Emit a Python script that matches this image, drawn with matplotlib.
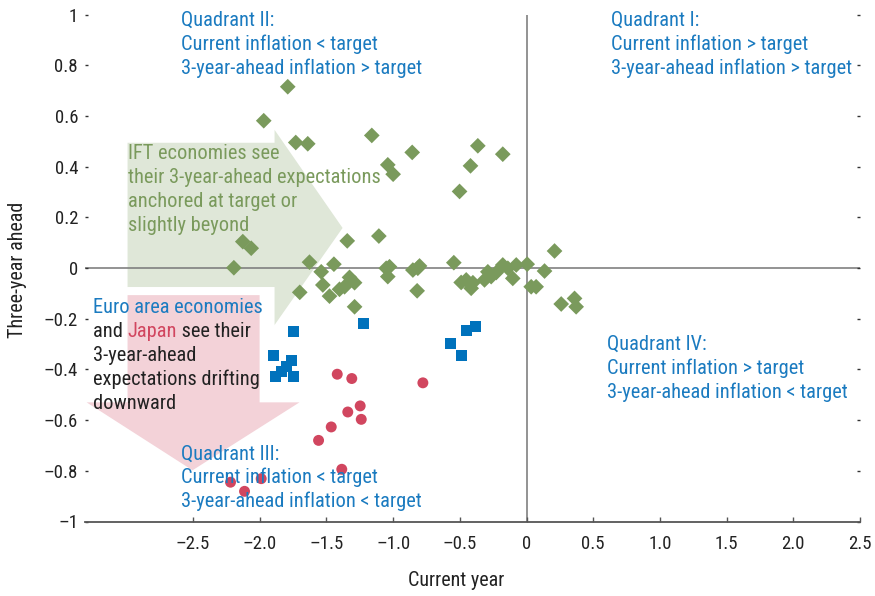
import matplotlib
matplotlib.use("Agg")
import matplotlib.pyplot as plt
import matplotlib.font_manager as fm
from matplotlib.patches import Polygon

names = {f.name for f in fm.fontManager.ttflist}
FONT = None
for cand in ['Liberation Sans Narrow', 'Arial Narrow', 'Roboto Condensed',
             'Open Sans Condensed', 'Noto Sans Condensed']:
    if cand in names:
        FONT = cand
        break
if FONT is None:
    FONT = 'DejaVu Sans'
    plt.rcParams['font.stretch'] = 'condensed'
    FS, TFS, LFS = 12.4, 12.5, 13
else:
    FS, TFS, LFS = 14.7, 13.5, 14.5
plt.rcParams['font.family'] = [FONT, 'DejaVu Sans']

# ---------------- data ----------------
ift_x = [-1.79, -1.97, -1.73, -1.64, -1.16, -0.857, -1.04, -1.00, -0.365, -0.178,
         -0.42, -0.502, -1.107, -1.344, 0.21, -1.627, -1.444, -1.539, -1.527, -1.70,
         -1.477, -1.402, -1.364, -1.327, -1.289, -1.289, -1.052, -1.027, -1.04, -0.852,
         -0.815, -0.802, -0.82, -0.545, -0.49, -0.452, -0.415, -0.402, -0.315, -0.29,
         -0.265, -0.227, -0.178, -0.14, -0.103, -0.077, 0.005, 0.035, 0.072, 0.135,
         0.26, 0.36, 0.372, -2.127, -2.064, -2.194]
ift_y = [0.715, 0.581, 0.495, 0.49, 0.523, 0.456, 0.407, 0.37, 0.482, 0.449,
         0.403, 0.302, 0.126, 0.107, 0.067, 0.023, 0.015, -0.015, -0.067, -0.096,
         -0.111, -0.084, -0.074, -0.037, -0.058, -0.153, -0.001, 0.005, -0.034, -0.008,
         -0.001, 0.008, -0.09, 0.021, -0.057, -0.047, -0.08, -0.058, -0.047, -0.015,
         -0.034, -0.018, 0.012, -0.001, -0.041, 0.012, 0.015, -0.074, -0.074, -0.012,
         -0.142, -0.12, -0.153, 0.104, 0.078, 0.001]

euro_x = [-1.745, -1.22, -1.90, -1.764, -1.88, -1.839, -1.797, -1.745,
          -0.385, -0.452, -0.572, -0.485]
euro_y = [-0.249, -0.219, -0.344, -0.364, -0.427, -0.41, -0.39, -0.427,
          -0.229, -0.248, -0.298, -0.344]

japan_x = [-1.419, -1.31, -0.777, -1.247, -1.34, -1.239, -1.464, -1.559,
           -1.385, -1.989, -2.219, -2.114]
japan_y = [-0.419, -0.436, -0.453, -0.544, -0.568, -0.597, -0.627, -0.68,
           -0.794, -0.831, -0.845, -0.881]

x_ticks = [-2.5, -2.0, -1.5, -1.0, -0.5, 0, 0.5, 1.0, 1.5, 2.0, 2.5]
x_tick_labels = ['\u20132.5', '\u20132.0', '\u20131.5', '\u20131.0', '\u20130.5', '0',
                 '0.5', '1.0', '1.5', '2.0', '2.5']
y_ticks = [1, 0.8, 0.6, 0.4, 0.2, 0, -0.2, -0.4, -0.6, -0.8, -1]
y_tick_labels = ['1', '0.8', '0.6', '0.4', '0.2', '0', '\u20130.2', '\u20130.4',
                 '\u20130.6', '\u20130.8', '\u20131']

GREEN = '#7a9a5c'
BLUE = '#0072bc'
RED = '#d1465f'
TXT_BLUE = '#1b7bc0'
ARROW_GREEN = '#dfe7d8'
ARROW_PINK = '#f3d2d8'

# ---------------- figure ----------------
fig = plt.figure(figsize=(8.75, 5.96), dpi=100)
ax = fig.add_axes([85 / 875, 1 - 521.5 / 596, 775 / 875, 507 / 596])
ax.set_xlim(-3.31, 2.5)
ax.set_ylim(-1, 1)

for s in ['top', 'left', 'right']:
    ax.spines[s].set_visible(False)
ax.spines['bottom'].set_color('#555555')
ax.spines['bottom'].set_linewidth(1.3)

ax.set_xticks(x_ticks)
ax.set_xticklabels(x_tick_labels)
ax.set_yticks(y_ticks)
ax.set_yticklabels(y_tick_labels)
ax.tick_params(axis='x', direction='in', length=3.5, width=1, color='#555555',
               labelsize=TFS, pad=10, labelcolor='#222222')
ax.tick_params(axis='y', direction='in', length=2.5, width=1, color='#333333',
               left=True, right=True, labelsize=TFS, pad=5, labelcolor='#222222')

# zero lines
ax.axhline(0, color='#808080', lw=1.2, zorder=1)
ax.axvline(0, color='#808080', lw=1.2, zorder=1)

# arrows (annotation shapes)
green_arrow = [(-2.991, 0.494), (-1.889, 0.494), (-1.889, 0.545), (-1.379, 0.158),
               (-1.889, -0.225), (-1.889, -0.075), (-2.991, -0.075)]
pink_arrow = [(-2.991, -0.107), (-2.001, -0.107), (-2.001, -0.530), (-1.702, -0.530),
              (-2.504, -0.798), (-3.298, -0.530), (-2.991, -0.530)]
ax.add_patch(Polygon(green_arrow, closed=True, facecolor=ARROW_GREEN, edgecolor='none', zorder=0))
ax.add_patch(Polygon(pink_arrow, closed=True, facecolor=ARROW_PINK, edgecolor='none', zorder=0))

# points
ax.scatter(ift_x, ift_y, marker='D', s=64, color=GREEN, edgecolors='none', zorder=3)
ax.scatter(euro_x, euro_y, marker='s', s=62, color=BLUE, edgecolors='none', zorder=3)
ax.scatter(japan_x, japan_y, marker='o', s=62, color=RED, edgecolors='none', zorder=3)

LS = 17.3  # line spacing (pt)


def put_lines(x, y, lines, color):
    for i, line in enumerate(lines):
        ax.annotate(line, xy=(x, y), xycoords='data', xytext=(0, -i * LS),
                    textcoords='offset points', va='baseline', ha='left',
                    color=color, fontsize=FS, zorder=5)


put_lines(-2.594, 0.954, ['Quadrant II:', 'Current inflation < target',
                          '3-year-ahead inflation > target'], TXT_BLUE)
put_lines(0.637, 0.954, ['Quadrant I:', 'Current inflation > target',
                         '3-year-ahead inflation > target'], TXT_BLUE)
put_lines(0.600, -0.324, ['Quadrant IV:', 'Current inflation > target',
                          '3-year-ahead inflation < target'], TXT_BLUE)
put_lines(-2.594, -0.755, ['Quadrant III:', 'Current inflation < target',
                           '3-year-ahead inflation < target'], TXT_BLUE)
put_lines(-2.991, 0.431, ['IFT economies see', 'their 3-year-ahead expectations',
                          'anchored at target or', 'slightly beyond'], GREEN)

ex, ey = -3.253, -0.177
put_lines(ex, ey, ['Euro area economies'], TXT_BLUE)
t1 = ax.annotate('and ', xy=(ex, ey), xycoords='data', xytext=(0, -LS),
                 textcoords='offset points', va='baseline', ha='left',
                 color='#222222', fontsize=FS, zorder=5)
t2 = ax.annotate('Japan', xy=(1, 0), xycoords=t1, va='bottom', ha='left',
                 color=RED, fontsize=FS, zorder=5)
ax.annotate(' see their', xy=(1, 0), xycoords=t2, va='bottom', ha='left',
            color='#222222', fontsize=FS, zorder=5)
for i, line in enumerate(['3-year-ahead', 'expectations drifting', 'downward']):
    ax.annotate(line, xy=(ex, ey), xycoords='data', xytext=(0, -(i + 2) * LS),
                textcoords='offset points', va='baseline', ha='left',
                color='#222222', fontsize=FS, zorder=5)

ax.set_xlabel('Current year', fontsize=LFS, color='#222222')
ax.xaxis.set_label_coords(0.479, -0.116)
ax.xaxis.label.set_va('center')
ax.set_ylabel('Three-year ahead', fontsize=LFS, color='#222222')
ax.yaxis.set_label_coords(-0.0865, 0.496)
ax.yaxis.label.set_va('center')

fig.savefig('out.png', dpi=100)
